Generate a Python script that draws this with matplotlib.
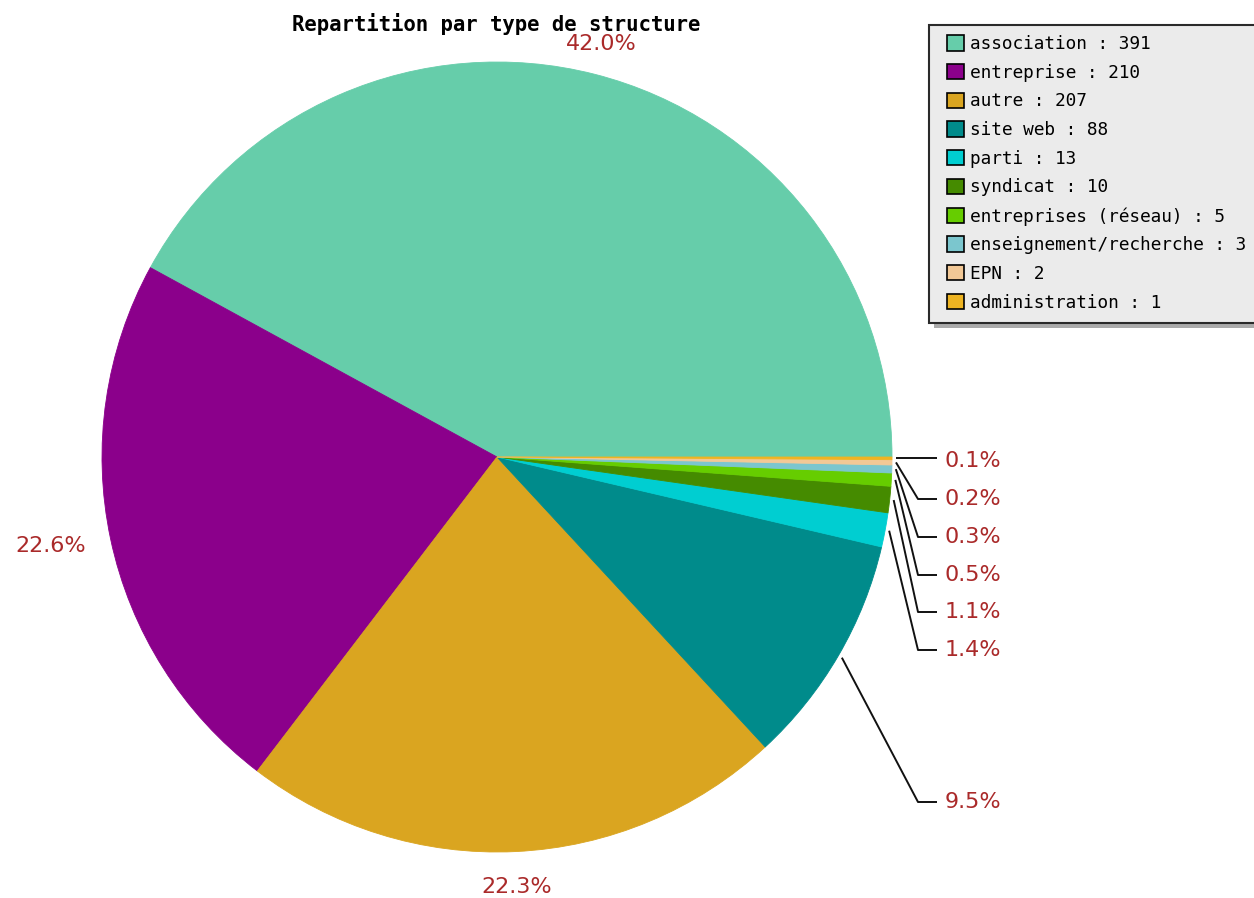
import numpy as np
import matplotlib.pyplot as plt
from matplotlib.patches import Patch, Rectangle

# donnees
categories = ["association", "entreprise", "autre", "site web", "parti",
              "syndicat", "entreprises (réseau)", "enseignement/recherche",
              "EPN", "administration"]
counts = [391, 210, 207, 88, 13, 10, 5, 3, 2, 1]
colors = ["#66CDAA", "#8B008B", "#DAA520", "#008B8B", "#00CED1",
          "#458B00", "#66CD00", "#7BC6CE", "#F2C896", "#EEB422"]

W, H = 1254, 898
cx, cy, rad = 497, H - 457, 395
lab_col = "#aa2a2a"

fig = plt.figure(figsize=(W / 100, H / 100), dpi=100)
ax = fig.add_axes([0, 0, 1, 1])
wedges, _ = ax.pie(counts, colors=colors, startangle=0, counterclock=True,
                   center=(cx, cy), radius=rad)
for w in wedges:
    w.set_edgecolor(w.get_facecolor())
    w.set_linewidth(0.6)
ax.set_xlim(0, W)
ax.set_ylim(0, H)
ax.set_aspect("equal")
ax.axis("off")

total = float(sum(counts))
pct = [100.0 * c / total for c in counts]

# grandes parts : label autour du camembert
R = 420
for i in range(3):
    w = wedges[i]
    a = np.deg2rad((w.theta1 + w.theta2) / 2)
    c, s = np.cos(a), np.sin(a)
    ha = "left" if c > 0.3 else ("right" if c < -0.3 else "center")
    va = "baseline" if s > 0.3 else ("top" if s < -0.3 else "center_baseline")
    ax.text(cx + R * c, cy + R * s, "%.1f%%" % pct[i], color=lab_col,
            fontsize=16, ha=ha, va=va)

# petites parts : lignes de rappel a droite
small_y = [802, 650, 612, 575, 537, 499, 461]
for k, i in enumerate(range(3, len(counts))):
    w = wedges[i]
    a = np.deg2rad((w.theta1 + w.theta2) / 2)
    x0, y0 = cx + (rad + 4) * np.cos(a), cy + (rad + 4) * np.sin(a)
    yl = H - small_y[k]
    if i == len(counts) - 1:
        xs, ys = [x0, 937], [y0, y0]
    else:
        xs, ys = [x0, 918, 937], [y0, yl, yl]
    ax.plot(xs, ys, color="#111111", lw=1.4, solid_capstyle="butt")
    ax.text(945, yl, "%.1f%%" % pct[i], color=lab_col, fontsize=16,
            ha="left", va="center")

fig.text(496 / W, 1 - 24 / H, "Repartition par type de structure",
         family="DejaVu Sans Mono", weight="bold", fontsize=14.9,
         ha="center", va="center")

# cadre de la legende avec ombre
px = lambda x0, y0, w, h: ((x0 / W, 1 - (y0 + h) / H), w / W, h / H)
xy, ww, hh = px(934, 30, 330, 298)
fig.patches.append(Rectangle(xy, ww, hh, transform=fig.transFigure,
                             facecolor="#ababab", edgecolor="none"))
xy, ww, hh = px(929, 25, 330, 298)
fig.patches.append(Rectangle(xy, ww, hh, transform=fig.transFigure,
                             facecolor="#EBEBEB", edgecolor="#2a2a2a",
                             linewidth=1.5))

handles = [Patch(facecolor=col, edgecolor="black", linewidth=1.2)
           for col in colors]
labels = ["%s : %d" % (n, v) for n, v in zip(categories, counts)]
leg = fig.legend(handles, labels, loc="upper left",
                 bbox_to_anchor=(947 / W, 1 - 35 / H),
                 prop={"family": "DejaVu Sans Mono", "size": 12.8},
                 frameon=False,
                 handlelength=0.95, handleheight=0.95, handletextpad=0.35,
                 labelspacing=0.60, borderpad=0, borderaxespad=0)

fig.savefig("out.png", dpi=100)
